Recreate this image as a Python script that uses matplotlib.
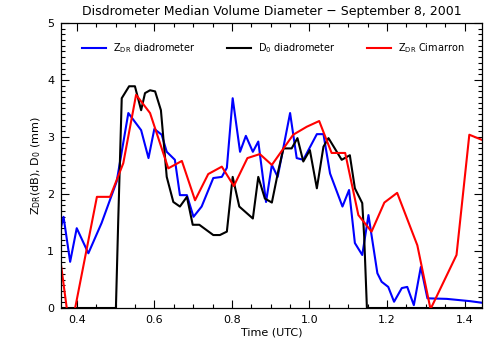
import matplotlib
matplotlib.use('Agg')
import matplotlib.pyplot as plt
from matplotlib.ticker import MultipleLocator

# ZDR from disdrometer (blue)
t_zdr = [0.360, 0.366, 0.383, 0.400, 0.430, 0.464, 0.503, 0.533, 0.566, 0.585,
         0.600, 0.619, 0.632, 0.653, 0.666, 0.684, 0.701, 0.722, 0.752, 0.774,
         0.787, 0.802, 0.821, 0.836, 0.854, 0.868, 0.888, 0.903, 0.918, 0.950,
         0.967, 0.984, 1.019, 1.036, 1.053, 1.085, 1.102, 1.117, 1.136, 1.152,
         1.175, 1.186, 1.203, 1.218, 1.238, 1.252, 1.269, 1.287, 1.304, 1.354,
         1.414, 1.447]
zdr_dis = [1.43, 1.60, 0.81, 1.40, 0.96, 1.49, 2.22, 3.42, 3.12, 2.63,
           3.14, 3.04, 2.74, 2.60, 1.98, 1.98, 1.60, 1.78, 2.28, 2.30,
           2.46, 3.68, 2.74, 3.02, 2.74, 2.92, 1.86, 2.51, 2.30, 3.42,
           2.63, 2.60, 3.05, 3.05, 2.36, 1.78, 2.07, 1.14, 0.93, 1.63,
           0.61, 0.46, 0.37, 0.11, 0.35, 0.37, 0.05, 0.72, 0.17, 0.16,
           0.12, 0.09]

# D0 from disdrometer (black)
t_d0 = [0.360, 0.501, 0.507, 0.516, 0.535, 0.550, 0.566, 0.576, 0.589, 0.602,
        0.617, 0.632, 0.649, 0.666, 0.684, 0.699, 0.716, 0.752, 0.769, 0.787,
        0.802, 0.819, 0.854, 0.868, 0.885, 0.903, 0.920, 0.933, 0.954, 0.969,
        0.984, 1.001, 1.019, 1.036, 1.049, 1.083, 1.104, 1.117, 1.136, 1.141,
        1.148, 1.447]
d0_dis = [0.0, 0.0, 1.54, 3.68, 3.89, 3.89, 3.47, 3.77, 3.82, 3.80,
          3.47, 2.30, 1.86, 1.78, 1.95, 1.46, 1.46, 1.28, 1.28, 1.34,
          2.30, 1.78, 1.57, 2.30, 1.92, 1.85, 2.42, 2.80, 2.80, 2.98,
          2.57, 2.77, 2.10, 2.83, 2.98, 2.60, 2.68, 2.10, 1.84, 1.25,
          0.0, 0.0]

# ZDR from Cimarron radar (red)
t_cim = [0.360, 0.383, 0.452, 0.486, 0.520, 0.553, 0.589, 0.636, 0.671, 0.705,
         0.739, 0.774, 0.805, 0.840, 0.872, 0.903, 0.958, 0.993, 1.025, 1.057,
         1.092, 1.126, 1.160, 1.193, 1.226, 1.278, 1.312, 1.379, 1.412, 1.448]
zdr_cim = [0.73, -0.45, 1.95, 1.95, 2.54, 3.74, 3.42, 2.45, 2.58, 1.89,
           2.35, 2.48, 2.14, 2.63, 2.70, 2.51, 3.04, 3.18, 3.28, 2.72,
           2.72, 1.63, 1.34, 1.85, 2.02, 1.10, -0.02, 0.93, 3.04, 2.94]

fig = plt.figure(figsize=(5.01, 3.51), dpi=100)
ax = fig.add_axes([0.1218, 0.1225, 0.8402, 0.812])

ax.plot(t_zdr, zdr_dis, color='#0000ff', lw=1.5, label='Z$_{\\rm DR}$ diadrometer')
ax.plot(t_d0, d0_dis, color='black', lw=1.5, label='D$_0$ diadrometer')
ax.plot(t_cim, zdr_cim, color='#ff0000', lw=1.5, label='Z$_{\\rm DR}$ Cimarron')

ax.set_xlim(0.3595, 1.4446)
ax.set_ylim(0, 5)
ax.xaxis.set_major_locator(MultipleLocator(0.2))
ax.xaxis.set_minor_locator(MultipleLocator(0.05))
ax.yaxis.set_major_locator(MultipleLocator(1))
ax.yaxis.set_minor_locator(MultipleLocator(0.1))
ax.xaxis.set_major_formatter(matplotlib.ticker.FormatStrFormatter('%.1f'))
ax.tick_params(which='both', direction='in', top=True, right=True, labelsize=8, width=0.8)
ax.tick_params(which='major', length=6, pad=5)
ax.tick_params(which='minor', length=3)
for s in ax.spines.values():
    s.set_linewidth(0.9)

ax.set_title('Disdrometer Median Volume Diameter \u2212 September 8, 2001', fontsize=9, pad=6)
ax.set_xlabel('Time (UTC)', fontsize=8, labelpad=2)
ax.set_ylabel('Z$_{\\rm DR}$(dB), D$_0$ (mm)', fontsize=8, labelpad=3)

ax.legend(loc='center left', bbox_to_anchor=(0.05, 0.912), ncol=3, frameon=False,
          fontsize=7, handlelength=2.5, handletextpad=0.7, columnspacing=3.2,
          borderpad=0, borderaxespad=0)

fig.savefig('out.png', dpi=100)
